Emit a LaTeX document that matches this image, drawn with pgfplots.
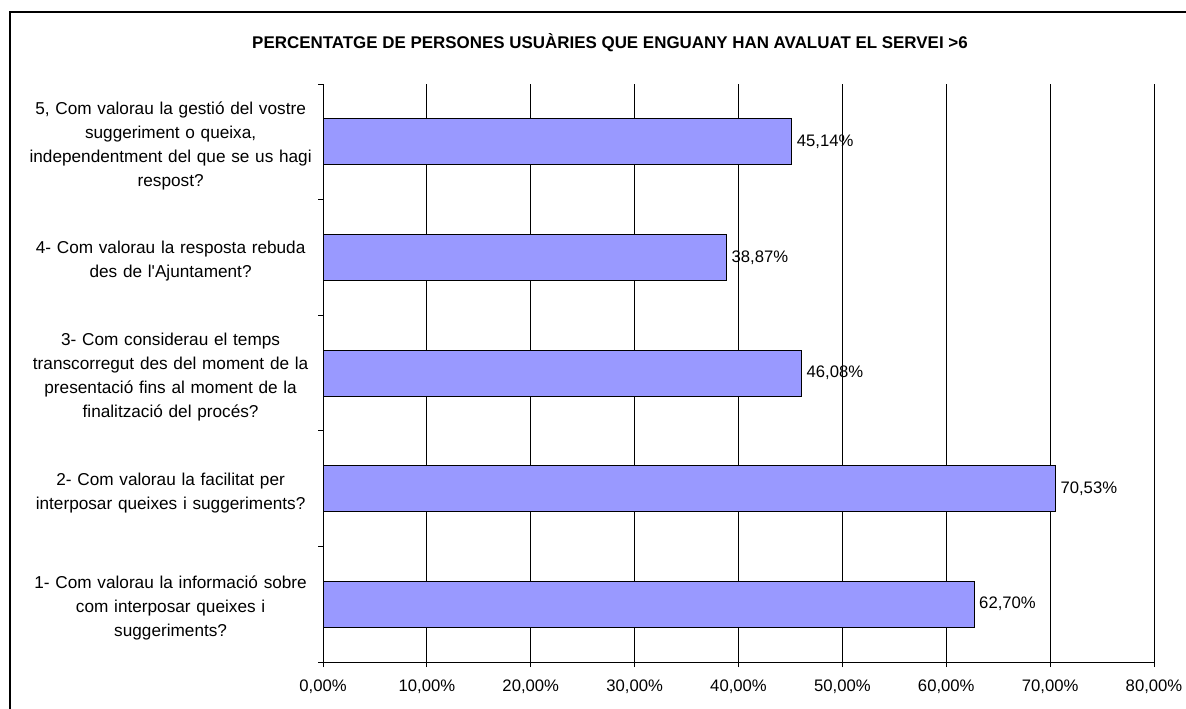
\documentclass[border=0pt]{standalone}
\usepackage{fontspec}
\setmainfont{Liberation Sans}
\usepackage{pgfplots}
\pgfplotsset{compat=1.18}
\definecolor{barfill}{HTML}{9999FF}
\begin{document}
\begin{tikzpicture}
\path[use as bounding box] (0,0) rectangle (889.5pt,-531pt);
\draw[line width=1pt] (7.5pt,-545pt) -- (7.5pt,-9pt) -- (915pt,-9pt);
\node[font=\bfseries\fontsize{12.7}{15}\selectfont] at (457.5pt,-32.25pt) {PERCENTATGE DE PERSONES USUÀRIES QUE ENGUANY HAN AVALUAT EL SERVEI >6};
\begin{axis}[
  at={(242.25pt,-496.5pt)}, anchor=south west,
  scale only axis, width=623.25pt, height=433.5pt,
  xmin=0, xmax=80, ymin=0.5, ymax=5.5,
  axis lines*=left,
  axis line style={line width=0.75pt, black},
  /pgf/number format/assume math mode=true,
  xtick={0,10,...,80},
  xticklabel={\pgfmathprintnumber[fixed,fixed zerofill,precision=2,use comma]{\tick}\%},
  xticklabel style={font=\fontsize{12.5}{15}\selectfont, yshift=-6pt},
  xmajorgrids,
  major grid style={black, line width=0.6pt},
  ytick={0.5,1.5,2.5,3.5,4.5,5.5},
  y tick label as interval,
  yticklabels={
    {1- Com valorau la informació sobre\\com interposar queixes i\\suggeriments?},
    {2- Com valorau la facilitat per\\interposar queixes i suggeriments?},
    {3- Com considerau el temps\\transcorregut des del moment de la\\presentació fins al moment de la\\finalització del procés?},
    {4- Com valorau la resposta rebuda\\des de l\textquotesingle Ajuntament?},
    {5, Com valorau la gestió del vostre\\suggeriment o queixa,\\independentment del que se us hagi\\respost?},
    {}},
  yticklabel style={align=center, text width=212pt, font=\fontsize{12.9}{18}\selectfont, xshift=-1pt, yshift=-3pt},
  tick align=outside,
  major tick length=3.75pt,
  tick style={black, line width=0.6pt},
  xbar, bar width=34.5pt,
  nodes near coords={\pgfmathprintnumber[fixed,fixed zerofill,precision=2,use comma]{\pgfplotspointmeta}\%},
  point meta=x,
  nodes near coords style={font=\fontsize{12.5}{15}\selectfont, black},
]
\addplot[fill=barfill, draw=black, line width=0.75pt] coordinates {(62.70,1) (70.53,2) (46.08,3) (38.87,4) (45.14,5)};
\end{axis}
\end{tikzpicture}
\end{document}
